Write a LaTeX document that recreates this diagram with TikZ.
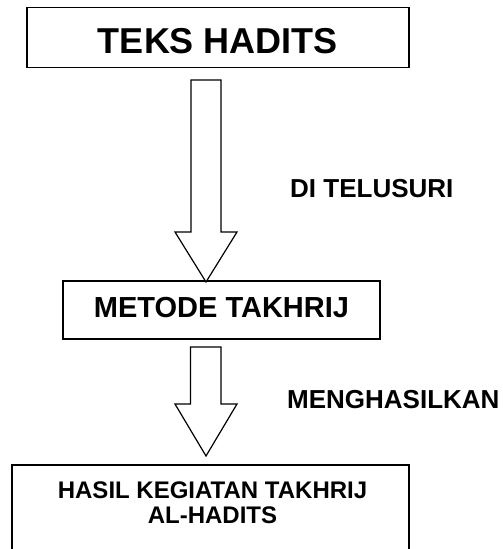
\documentclass[tikz,border=0pt]{standalone}
\usepackage{fontspec}
\setmainfont{Liberation Sans}
\begin{document}
\begin{tikzpicture}[x=1pt,y=-1pt,
  box/.style={draw=black, line width=1.6pt, rectangle, inner sep=0pt, font=\bfseries},
  blockarrow/.style={draw=black, line width=1.2pt, fill=white, line join=miter},
  lbl/.style={inner sep=0pt, font=\bfseries\fontsize{26}{30}\selectfont, anchor=base west}]
\useasboundingbox (0,0) rectangle (503,549);
\clip (0,0) rectangle (503,549);
% box 1
\node[box, minimum width=382pt, minimum height=60pt, text height=31pt, text depth=0pt,
      font=\bfseries\fontsize{36}{43}\selectfont] (teks) at (218,37.5) {TEKS HADITS};
% box 2
\node[box, minimum width=317pt, minimum height=58pt, line width=1.8pt, text height=20.8pt, text depth=5pt,
      font=\bfseries\fontsize{29}{34}\selectfont] (metode) at (221.5,310) {METODE TAKHRIJ};
% box 3 (open at the bottom)
\draw[line width=1.6pt] (12,600) |- (409,465) -- (409,600);
\node[inner sep=0pt, align=center, font=\bfseries\fontsize{24}{25}\selectfont, anchor=base]
  (hasil) at (212.5,523) {HASIL KEGIATAN TAKHRIJ\\AL-HADITS};
% block arrow 1
\draw[blockarrow] (191,80) -- (221,80) -- (221,232) -- (237,232) -- (206,282)
  -- (175,232) -- (191,232) -- cycle;
% block arrow 2
\draw[blockarrow] (190.5,347) -- (221,347) -- (221,404) -- (237,404) -- (206,456)
  -- (175,404) -- (190.5,404) -- cycle;
% labels
\node[lbl] (telusuri) at (290,197) {DI TELUSURI};
\node[lbl] (menghasilkan) at (287,408) {MENGHASILKAN};
\end{tikzpicture}
\end{document}
